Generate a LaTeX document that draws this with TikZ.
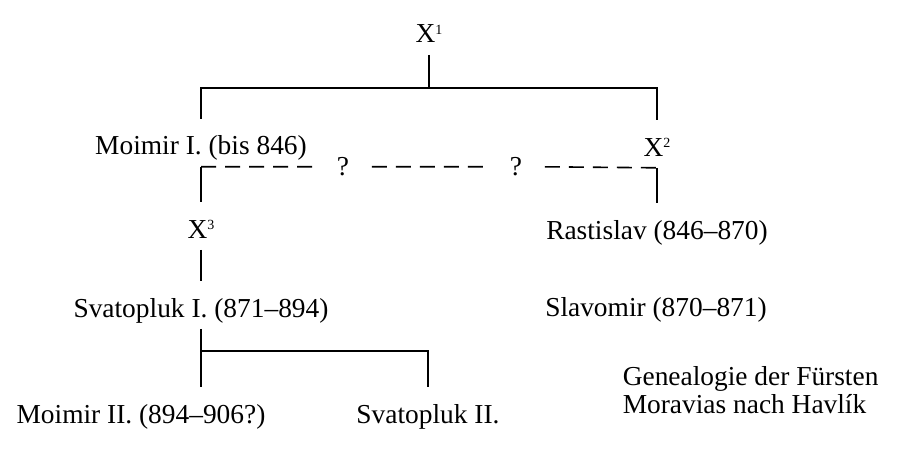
\documentclass[tikz,border=0pt]{standalone}
\usepackage{fontspec}
\setmainfont{Liberation Serif}
\newcommand{\xsup}[1]{\raisebox{4.3pt}{\fontsize{7}{7}\selectfont #1}}
\begin{document}
\begin{tikzpicture}[x=0.5pt,y=-0.5pt,line width=0.8pt,
    person/.style={anchor=base,inner xsep=0pt,inner ysep=0pt,
      text height=17.5pt,text depth=5.5pt,font=\fontsize{13.7}{16}\selectfont},
    qmark/.style={anchor=base,inner xsep=11pt,inner ysep=0pt,font=\fontsize{13.7}{16}\selectfont},
    caption/.style={anchor=base west,inner sep=0pt,font=\fontsize{13.7}{16}\selectfont}]
    \useasboundingbox (0,0) rectangle (900,449);

    \node[person] (x1) at (429,43) {X\xsup{1}};
    \node[person] (moimirI) at (201,155) {Moimir I. (bis 846)};
    \node[person] (x2) at (657,156) {X\xsup{2}};
    \node[person] (x3) at (201,238) {X\xsup{3}};
    \node[person] (rastislav) at (657,239) {Rastislav (846–870)};
    \node[person] (svatoplukI) at (201,317) {Svatopluk I. (871–894)};
    \node[person] (slavomir) at (656,316) {Slavomir (870–871)};
    \node[person] (moimirII) at (141,423) {Moimir II. (894–906?)};
    \node[person] (svatoplukII) at (428,423) {Svatopluk II.};
    \node[qmark] (q1) at (343,176) {?};
    \node[qmark] (q2) at (516,176) {?};
    \node[caption] (cap1) at (622,385) {Genealogie der Fürsten};
    \node[caption] (cap2) at (622,413) {Moravias nach Havlík};

    \draw (x1.south) -- ++(0,33) coordinate (fork1) -| (moimirI.north);
    \draw (fork1) -| (x2.north);
    \draw (moimirI.south) -- (x3.north);
    \draw (x2.south) -- (rastislav.north);
    \draw[dash pattern=on 7.5pt off 4.5pt]
    (moimirI.south) -- (moimirI.south -| q1.west)
    (moimirI.south -| q1.east) -- (moimirI.south -| q2.west)
    (moimirI.south -| q2.east) -- (x2.south);
    \draw (x3.south) -- (svatoplukI.north);
    \draw (svatoplukI.south) -- (svatoplukI.south |- moimirII.north);
    \draw (svatoplukI.south) ++(0,22) coordinate (fork2) -| (svatoplukII.north);
  \end{tikzpicture}
\end{document}
